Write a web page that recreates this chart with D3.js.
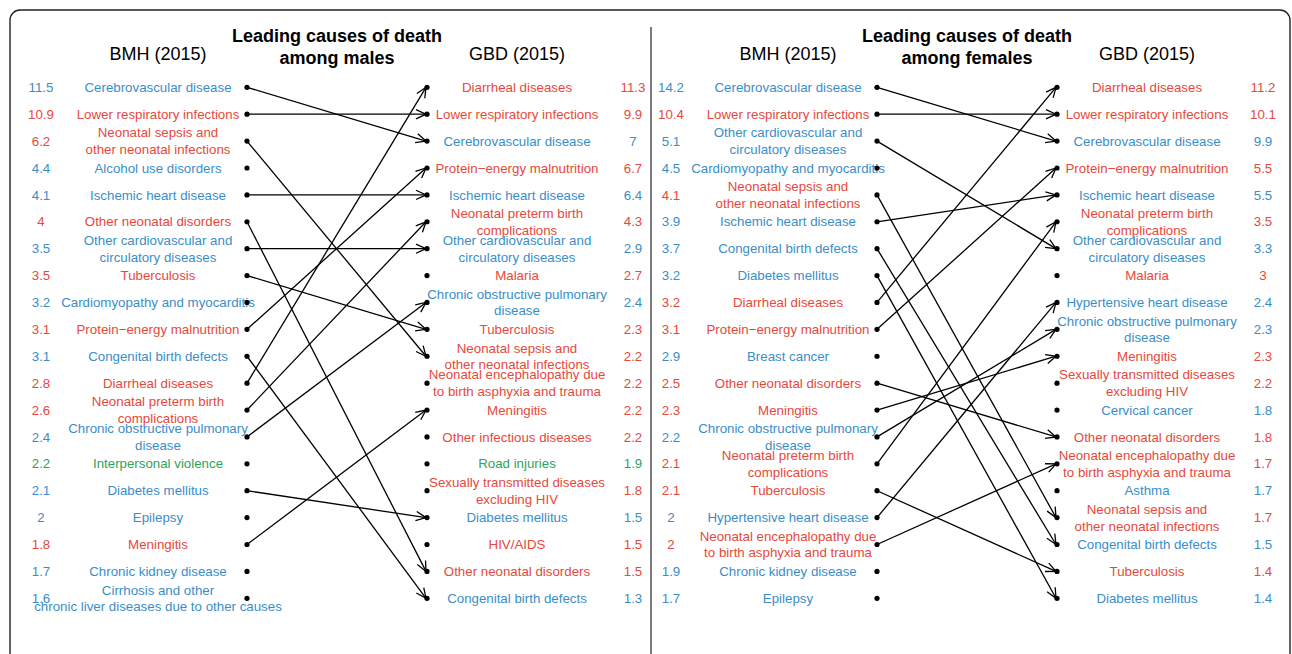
<!DOCTYPE html>
<html>
<head>
<meta charset="utf-8">
<script src="https://cdn.jsdelivr.net/npm/d3@7"></script>
<style>
  html, body { margin: 0; padding: 0; background: #fff; }
  svg text { font-family: "Liberation Sans", Arial, Helvetica, sans-serif; }
</style>
</head>
<body>
<svg id="chart" width="1292" height="654"></svg>
<script>
// ---------------- DATA ----------------
const maleBMHCauses = ["Cerebrovascular disease", "Lower respiratory infections", "Neonatal sepsis and\nother neonatal infections", "Alcohol use disorders", "Ischemic heart disease", "Other neonatal disorders", "Other cardiovascular and\ncirculatory diseases", "Tuberculosis", "Cardiomyopathy and myocarditis", "Protein−energy malnutrition", "Congenital birth defects", "Diarrheal diseases", "Neonatal preterm birth\ncomplications", "Chronic obstructive pulmonary\ndisease", "Interpersonal violence", "Diabetes mellitus", "Epilepsy", "Meningitis", "Chronic kidney disease", "Cirrhosis and other\nchronic liver diseases due to other causes"];
const maleBMHValues = ["11.5", "10.9", "6.2", "4.4", "4.1", "4", "3.5", "3.5", "3.2", "3.1", "3.1", "2.8", "2.6", "2.4", "2.2", "2.1", "2", "1.8", "1.7", "1.6"];
const maleBMHGroups = ["n", "c", "c", "n", "n", "c", "n", "c", "n", "c", "n", "c", "c", "n", "i", "n", "n", "c", "n", "n"];

const maleGBDCauses = ["Diarrheal diseases", "Lower respiratory infections", "Cerebrovascular disease", "Protein−energy malnutrition", "Ischemic heart disease", "Neonatal preterm birth\ncomplications", "Other cardiovascular and\ncirculatory diseases", "Malaria", "Chronic obstructive pulmonary\ndisease", "Tuberculosis", "Neonatal sepsis and\nother neonatal infections", "Neonatal encephalopathy due\nto birth asphyxia and trauma", "Meningitis", "Other infectious diseases", "Road injuries", "Sexually transmitted diseases\nexcluding HIV", "Diabetes mellitus", "HIV/AIDS", "Other neonatal disorders", "Congenital birth defects"];
const maleGBDValues = ["11.3", "9.9", "7", "6.7", "6.4", "4.3", "2.9", "2.7", "2.4", "2.3", "2.2", "2.2", "2.2", "2.2", "1.9", "1.8", "1.5", "1.5", "1.5", "1.3"];
const maleGBDGroups = ["c", "c", "n", "c", "n", "c", "n", "c", "n", "c", "c", "c", "c", "c", "i", "c", "n", "c", "c", "n"];

const femaleBMHCauses = ["Cerebrovascular disease", "Lower respiratory infections", "Other cardiovascular and\ncirculatory diseases", "Cardiomyopathy and myocarditis", "Neonatal sepsis and\nother neonatal infections", "Ischemic heart disease", "Congenital birth defects", "Diabetes mellitus", "Diarrheal diseases", "Protein−energy malnutrition", "Breast cancer", "Other neonatal disorders", "Meningitis", "Chronic obstructive pulmonary\ndisease", "Neonatal preterm birth\ncomplications", "Tuberculosis", "Hypertensive heart disease", "Neonatal encephalopathy due\nto birth asphyxia and trauma", "Chronic kidney disease", "Epilepsy"];
const femaleBMHValues = ["14.2", "10.4", "5.1", "4.5", "4.1", "3.9", "3.7", "3.2", "3.2", "3.1", "2.9", "2.5", "2.3", "2.2", "2.1", "2.1", "2", "2", "1.9", "1.7"];
const femaleBMHGroups = ["n", "c", "n", "n", "c", "n", "n", "n", "c", "c", "n", "c", "c", "n", "c", "c", "n", "c", "n", "n"];

const femaleGBDCauses = ["Diarrheal diseases", "Lower respiratory infections", "Cerebrovascular disease", "Protein−energy malnutrition", "Ischemic heart disease", "Neonatal preterm birth\ncomplications", "Other cardiovascular and\ncirculatory diseases", "Malaria", "Hypertensive heart disease", "Chronic obstructive pulmonary\ndisease", "Meningitis", "Sexually transmitted diseases\nexcluding HIV", "Cervical cancer", "Other neonatal disorders", "Neonatal encephalopathy due\nto birth asphyxia and trauma", "Asthma", "Neonatal sepsis and\nother neonatal infections", "Congenital birth defects", "Tuberculosis", "Diabetes mellitus"];
const femaleGBDValues = ["11.2", "10.1", "9.9", "5.5", "5.5", "3.5", "3.3", "3", "2.4", "2.3", "2.3", "2.2", "1.8", "1.8", "1.7", "1.7", "1.7", "1.5", "1.4", "1.4"];
const femaleGBDGroups = ["c", "c", "n", "c", "n", "c", "n", "c", "n", "n", "c", "c", "n", "c", "c", "n", "c", "n", "c", "n"];

const titles = ["Leading causes of death\namong males", "Leading causes of death\namong females"];
const columnHeaders = ["BMH (2015)", "GBD (2015)"];

// ---------------- STYLE / LAYOUT ----------------
const groupColor = d3.scaleOrdinal()
  .domain(["c", "n", "i"])
  .range(["#e6493b", "#3a8ec8", "#2ea35a"]);

const svg = d3.select("#chart");
const y = d3.scaleLinear().domain([0, 19]).range([87.3, 598.3]);

// outer rounded frame (extends below the visible area)
svg.append("rect")
  .attr("x", 10).attr("y", 10).attr("width", 1280).attr("height", 700)
  .attr("rx", 10).attr("ry", 10)
  .attr("fill", "none").attr("stroke", "#222").attr("stroke-width", 1.4);

// divider
svg.append("line")
  .attr("x1", 651).attr("x2", 651).attr("y1", 27).attr("y2", 654)
  .attr("stroke", "#444").attr("stroke-width", 1.4);

const panels = [
  { off: 0, bmh: maleBMHCauses, bmhV: maleBMHValues, bmhG: maleBMHGroups,
    gbd: maleGBDCauses, gbdV: maleGBDValues, gbdG: maleGBDGroups, title: titles[0] },
  { off: 630, bmh: femaleBMHCauses, bmhV: femaleBMHValues, bmhG: femaleBMHGroups,
    gbd: femaleGBDCauses, gbdV: femaleGBDValues, gbdG: femaleGBDGroups, title: titles[1] }
];

const xs = { lv: 41, ll: 158, ld: 247, rd: 427, rl: 517, rv: 633, title: 337 };
const fs = 13.3;
const lineH = 16.6;

function multiText(g, str, x, cy, color, size, weight, lh) {
  const lines = str.split("\n");
  const t = g.append("text")
    .attr("text-anchor", "middle")
    .attr("fill", color)
    .style("font-size", size + "px")
    .style("font-weight", weight || "normal");
  lines.forEach((ln, k) => {
    t.append("tspan")
      .attr("x", x)
      .attr("y", cy + (k - (lines.length - 1) / 2) * lh)
      .attr("dy", "0.35em")
      .text(ln);
  });
  return t;
}

svg.append("defs").append("marker")
  .attr("id", "arr")
  .attr("viewBox", "-12 -7 14 14")
  .attr("refX", 0).attr("refY", 0)
  .attr("markerWidth", 14).attr("markerHeight", 14)
  .attr("markerUnits", "userSpaceOnUse")
  .attr("orient", "auto")
  .append("path")
  .attr("d", "M-10,-4.6 L0,0 L-10,4.6")
  .attr("fill", "none").attr("stroke", "#000").attr("stroke-width", 1.3);

panels.forEach(p => {
  const g = svg.append("g").attr("transform", `translate(${p.off},0)`);

  // titles
  multiText(g, p.title, xs.title, 47, "#000", 18, "bold", 22);
  multiText(g, columnHeaders[0], xs.ll, 54, "#000", 18, "normal", 20);
  multiText(g, columnHeaders[1], xs.rl, 54, "#000", 18, "normal", 20);

  // arrows
  const links = [];
  p.bmh.forEach((c, i) => {
    const j = p.gbd.indexOf(c);
    if (j >= 0) links.push({ i, j });
  });
  g.selectAll("line.link").data(links).enter().append("line")
    .attr("class", "link")
    .attr("x1", xs.ld).attr("y1", d => y(d.i))
    .attr("x2", xs.rd - 1).attr("y2", d => y(d.j))
    .attr("stroke", "#000").attr("stroke-width", 1.3)
    .attr("marker-end", "url(#arr)");

  // BMH side
  p.bmh.forEach((c, i) => {
    const col = groupColor(p.bmhG[i]);
    multiText(g, p.bmhV[i], xs.lv, y(i), col, fs, "normal", lineH);
    multiText(g, c, xs.ll, y(i), col, fs, "normal", lineH);
  });
  // GBD side
  p.gbd.forEach((c, i) => {
    const col = groupColor(p.gbdG[i]);
    multiText(g, c, xs.rl, y(i), col, fs, "normal", lineH);
    multiText(g, p.gbdV[i], xs.rv, y(i), col, fs, "normal", lineH);
  });

  // dots
  g.selectAll("circle.l").data(p.bmh).enter().append("circle")
    .attr("cx", xs.ld).attr("cy", (d, i) => y(i)).attr("r", 2.6).attr("fill", "#000");
  g.selectAll("circle.r").data(p.gbd).enter().append("circle")
    .attr("cx", xs.rd).attr("cy", (d, i) => y(i)).attr("r", 2.6).attr("fill", "#000");
});
</script>
</body>
</html>
